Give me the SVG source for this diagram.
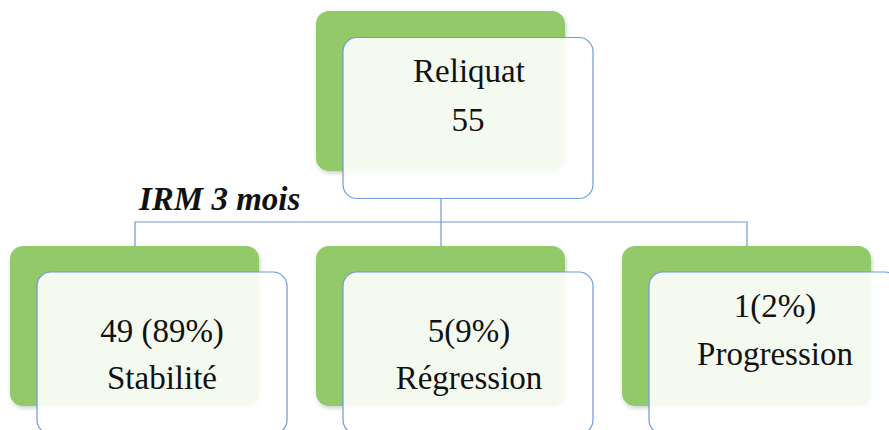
<svg xmlns="http://www.w3.org/2000/svg" width="889" height="430" viewBox="0 0 889 430">
<defs>
<style>
.back{fill:#92CA6A;}
.front{fill:#FFFFFF;fill-opacity:0.9;stroke:#6F9AD6;stroke-width:1.2;}
.lbl{font-family:"Liberation Serif","DejaVu Serif",serif;font-size:33px;fill:#111;text-anchor:middle;}
.conn{fill:none;stroke:#6F9AD6;stroke-width:1.2;}
.title{font-family:"Liberation Serif","DejaVu Serif",serif;font-size:33px;font-weight:bold;font-style:italic;fill:#111;}
</style>
<filter id="sh" x="-10%" y="-10%" width="130%" height="130%">
<feDropShadow dx="1" dy="2" stdDeviation="2" flood-color="#000" flood-opacity="0.2"/>
</filter>
</defs>
<rect width="889" height="430" fill="#FFFFFF"/>
<g id="connectors">
<path class="conn" d="M441 198 V246"/>
<path class="conn" d="M135 246 V222 H747 V246"/>
</g>
<g id="node-reliquat">
<rect class="back" x="316" y="11" width="249" height="160" rx="13" filter="url(#sh)"/>
<rect class="front" x="343" y="37.5" width="250" height="161" rx="14"/>
<text class="lbl" x="469" y="82">Reliquat</text>
<text class="lbl" x="468" y="131">55</text>
</g>
<text class="title" x="139" y="210">IRM 3 mois</text>
<g id="node-stabilite">
<rect class="back" x="10" y="246" width="249" height="160" rx="13" filter="url(#sh)"/>
<rect class="front" x="37" y="272" width="250" height="162" rx="14"/>
<text class="lbl" x="162" y="342">49 (89%)</text>
<text class="lbl" x="162" y="389">Stabilité</text>
</g>
<g id="node-regression">
<rect class="back" x="316" y="246" width="249" height="160" rx="13" filter="url(#sh)"/>
<rect class="front" x="343" y="272" width="250" height="162" rx="14"/>
<text class="lbl" x="469" y="342">5(9%)</text>
<text class="lbl" x="469" y="389">Régression</text>
</g>
<g id="node-progression">
<rect class="back" x="622" y="246" width="249" height="160" rx="13" filter="url(#sh)"/>
<rect class="front" x="649" y="272" width="250" height="162" rx="14"/>
<text class="lbl" x="775" y="317">1(2%)</text>
<text class="lbl" x="775" y="365">Progression</text>
</g>
</svg>
